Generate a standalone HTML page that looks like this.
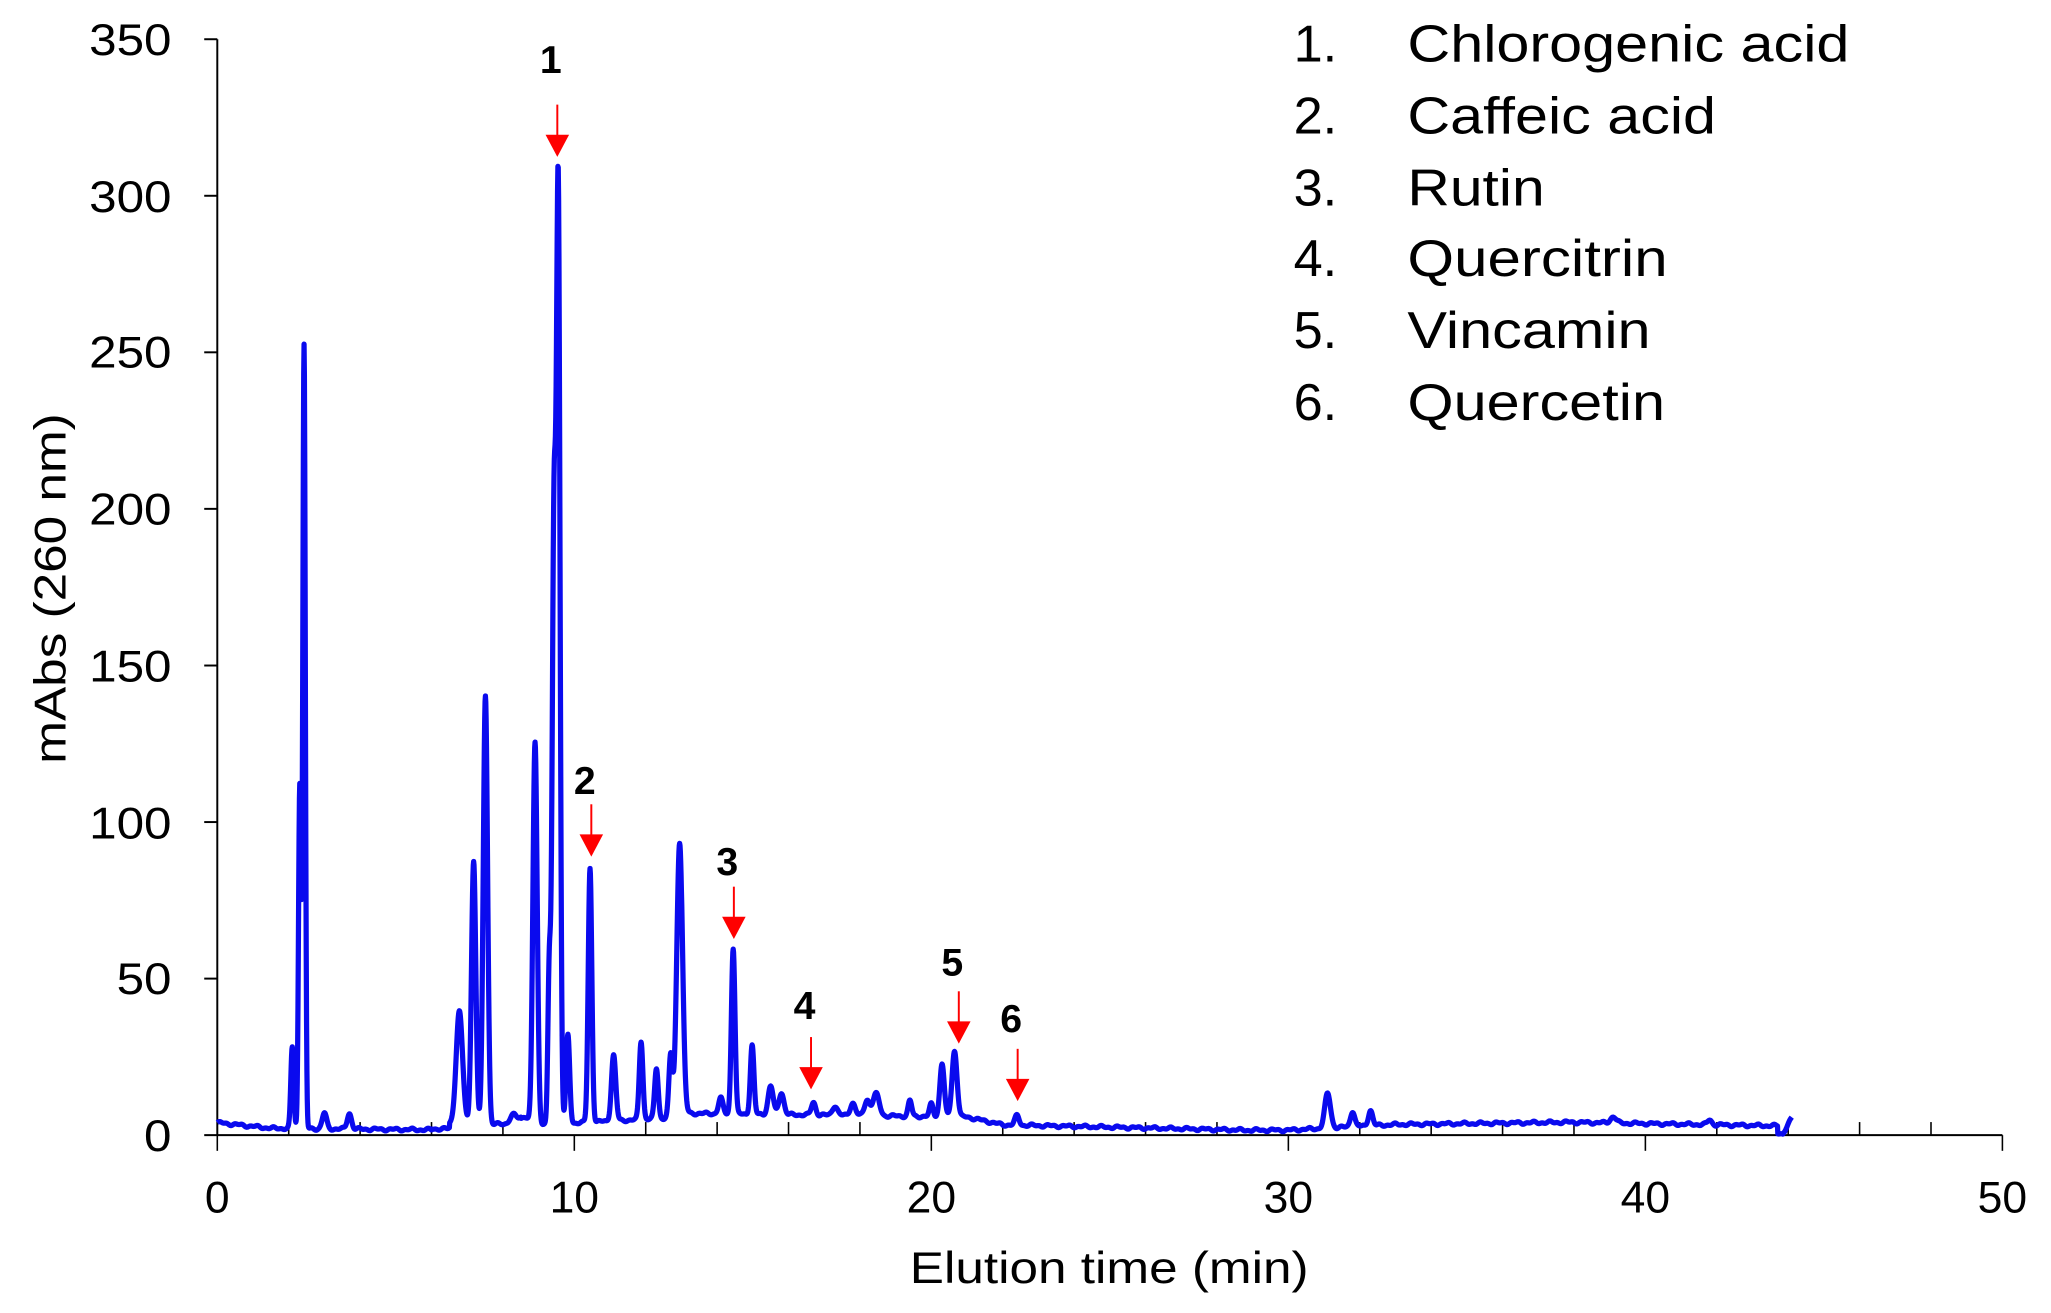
<!DOCTYPE html>
<html><head><meta charset="utf-8"><style>
html,body{margin:0;padding:0;background:#fff;}
svg{display:block;}
text{font-family:"Liberation Sans",Arial,sans-serif;fill:#000;}
</style></head><body>
<svg id="s" width="2051" height="1313" viewBox="0 0 1568 1004" xmlns="http://www.w3.org/2000/svg">
<rect width="1568" height="1004" fill="#fff"/>
<g stroke="#000" stroke-width="1.5" fill="none">
<line x1="166" y1="30" x2="166" y2="868"/>
<line x1="156" y1="868" x2="1531" y2="868"/>
<line x1="156" y1="30" x2="166" y2="30"/>
<line x1="156" y1="149.7" x2="166" y2="149.7"/>
<line x1="156" y1="269.4" x2="166" y2="269.4"/>
<line x1="156" y1="389.1" x2="166" y2="389.1"/>
<line x1="156" y1="508.9" x2="166" y2="508.9"/>
<line x1="156" y1="628.6" x2="166" y2="628.6"/>
<line x1="156" y1="748.3" x2="166" y2="748.3"/>
</g>
<g id="xt" stroke="#000" stroke-width="1.2"></g>
<g font-size="34" text-anchor="end">
<text x="131" y="42" textLength="63" lengthAdjust="spacingAndGlyphs">350</text><text x="131" y="162" textLength="63" lengthAdjust="spacingAndGlyphs">300</text><text x="131" y="281" textLength="63" lengthAdjust="spacingAndGlyphs">250</text>
<text x="131" y="401" textLength="63" lengthAdjust="spacingAndGlyphs">200</text><text x="131" y="521" textLength="63" lengthAdjust="spacingAndGlyphs">150</text><text x="131" y="641" textLength="63" lengthAdjust="spacingAndGlyphs">100</text>
<text x="131" y="760" textLength="42" lengthAdjust="spacingAndGlyphs">50</text><text x="131" y="880" textLength="21" lengthAdjust="spacingAndGlyphs">0</text>
</g>
<g font-size="34" text-anchor="middle">
<text x="166" y="927">0</text><text x="439" y="927">10</text><text x="712" y="927">20</text>
<text x="985" y="927">30</text><text x="1258" y="927">40</text><text x="1531" y="927">50</text>
</g>
<text x="848" y="981" font-size="34" text-anchor="middle" textLength="305" lengthAdjust="spacingAndGlyphs">Elution time (min)</text>
<text transform="translate(50,450) rotate(-90)" font-size="34" text-anchor="middle" textLength="268" lengthAdjust="spacingAndGlyphs">mAbs (260 nm)</text>
<g font-size="40">
<text x="989" y="47">1.</text><text x="1076" y="47" textLength="338" lengthAdjust="spacingAndGlyphs">Chlorogenic acid</text>
<text x="989" y="102">2.</text><text x="1076" y="102" textLength="236" lengthAdjust="spacingAndGlyphs">Caffeic acid</text>
<text x="989" y="157">3.</text><text x="1076" y="157" textLength="105" lengthAdjust="spacingAndGlyphs">Rutin</text>
<text x="989" y="211">4.</text><text x="1076" y="211" textLength="199" lengthAdjust="spacingAndGlyphs">Quercitrin</text>
<text x="989" y="266">5.</text><text x="1076" y="266" textLength="186" lengthAdjust="spacingAndGlyphs">Vincamin</text>
<text x="989" y="321">6.</text><text x="1076" y="321" textLength="197" lengthAdjust="spacingAndGlyphs">Quercetin</text>
</g>
<path id="trace" fill="none" stroke="#0a0aee" stroke-width="4" stroke-linejoin="round"/>
<g id="ann"></g>
</svg>
<script>
var NS="http://www.w3.org/2000/svg";
function X(t){return 166+27.3*t;}
function Y(v){return 868-2.394*v;}
var xt=document.getElementById('xt');
for(var t=0;t<=50;t+=2){var l=document.createElementNS(NS,'line');l.setAttribute('x1',X(t));l.setAttribute('x2',X(t));
 if(t%10==0){l.setAttribute('y1',868);l.setAttribute('y2',880);}else{l.setAttribute('y1',858);l.setAttribute('y2',868);}xt.appendChild(l);}
var P=[[2.1,26,.04],[2.31,110,.035],[2.43,250,.035],[3.0,5,.06],[3.7,5,.06],[6.78,36,.09],[7.18,84,.06],[7.51,137,.06],[8.3,3,.1],[8.6,3,.1],
[8.9,122,.06],[9.3,50,.04],[9.43,190,.05],[9.55,295,.05],[9.82,28,.05],[10.44,81,.05],[11.1,21,.06],[11.87,25,.05],[12.3,16,.05],[12.7,20,.05],[12.95,88,.08],
[14.1,5,.06],[14.45,53,.05],[14.98,22,.05],[15.5,9,.07],[15.8,7,.07],[16.7,4,.06],[17.3,3,.07],[17.8,4,.07],[18.2,5,.07],[18.45,7,.09],[19.4,5,.05],[20.0,4,.05],
[20.3,17,.06],[20.65,21,.07],[22.4,3,.06],[31.1,11,.08],[31.8,5,.06],[32.3,5,.06],[39.1,2,.08],[41.8,1.5,.06]];
function base(t){
 if(t<1.5)return 4-1.8*t/1.5;
 if(t<6)return 2.2-0.5*(t-1.5)/4.5;
 if(t<8.5)return 2+ (t>6.5?1.5:0);
 if(t<13)return 3+ (t-8.5)*0.6;
 if(t<21)return 7-(t-13)*0.15;
 if(t<22)return 5.8-(t-21)*2.5;
 if(t<29)return 3.3-(t-22)*0.25;
 if(t<30)return 1.6;
 if(t<33)return 1.6+(t-30)*0.6;
 if(t<38)return 3.4+(t-33)*0.15;
 if(t<43.7)return 4.1-(t-38)*0.2;
 if(t<43.85)return 0.5;
 return 0.5+(t-43.85)*20;
}
function v(t){var s=base(t);for(var i=0;i<P.length;i++){var d=(t-P[i][0])/P[i][2];if(Math.abs(d)<6)s+=P[i][1]*Math.exp(-0.5*d*d);}
 s+=0.3*Math.sin(t*13)+0.2*Math.sin(t*29);return Math.max(s,0.3);}
var d="";for(var t=0;t<=44.1;t+=0.01){d+=(t==0?"M":"L")+X(t).toFixed(2)+","+Y(v(t)).toFixed(2);}
document.getElementById('trace').setAttribute('d',d);
var A=[["1",426,45,120],["2",452,596,655],["3",561,658,718],["4",620,768,833],["5",733,735,798],["6",778,778,842]];
var g=document.getElementById('ann');
A.forEach(function(a){var x=a[1],ly=a[2],tip=a[3];
 var tx=document.createElementNS(NS,'text');tx.setAttribute('x',x-5);tx.setAttribute('y',ly+11);tx.setAttribute('font-size','30');tx.setAttribute('font-weight','bold');tx.setAttribute('text-anchor','middle');tx.textContent=a[0];g.appendChild(tx);
 var l=document.createElementNS(NS,'line');l.setAttribute('x1',x);l.setAttribute('x2',x);l.setAttribute('y1',tip-40);l.setAttribute('y2',tip-14);l.setAttribute('stroke','#ff0000');l.setAttribute('stroke-width','1.5');g.appendChild(l);
 var p=document.createElementNS(NS,'polygon');p.setAttribute('points',(x-9)+","+(tip-17)+" "+(x+9)+","+(tip-17)+" "+x+","+tip);p.setAttribute('fill','#ff0000');g.appendChild(p);});
</script>
</body></html>
